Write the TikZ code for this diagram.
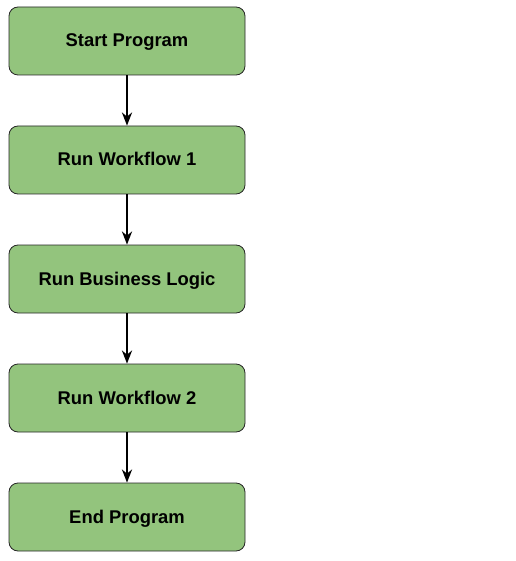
\documentclass[tikz,border=0pt]{standalone}
\usepackage{fontspec}
\setmainfont{Liberation Sans}
\usetikzlibrary{arrows.meta}

\definecolor{boxgreen}{RGB}{147,196,125}
\tikzset{
  schritt/.style={draw=black!85, fill=boxgreen, rounded corners=9pt, line width=0.8pt,
    minimum width=236pt, minimum height=68pt, inner sep=0pt,
    text height=12pt, text depth=0pt,
    font=\fontsize{18.4}{22}\selectfont\bfseries},
  pfeil/.style={line width=2.6pt, -{Stealth[length=13pt,width=10pt,inset=4pt]}}
}

\begin{document}
\begin{tikzpicture}[x=1pt, y=1pt]

    % Rahmen
    \useasboundingbox (0, 0) rectangle (515, -561);

    % Schritte
    \node[schritt] (start) at (127, -41) {Start Program};
    \node[schritt] (wf1) at (127, -160) {Run Workflow 1};
    \node[schritt] (logik) at (127, -279) {Run Business Logic};
    \node[schritt] (wf2) at (127, -398) {Run Workflow 2};
    \node[schritt] (ende) at (127, -517) {End Program};

    % Pfeile
    \draw[pfeil] (start) -- (wf1);
    \draw[pfeil] (wf1) -- (logik);
    \draw[pfeil] (logik) -- (wf2);
    \draw[pfeil] (wf2) -- (ende);

\end{tikzpicture}
\end{document}
